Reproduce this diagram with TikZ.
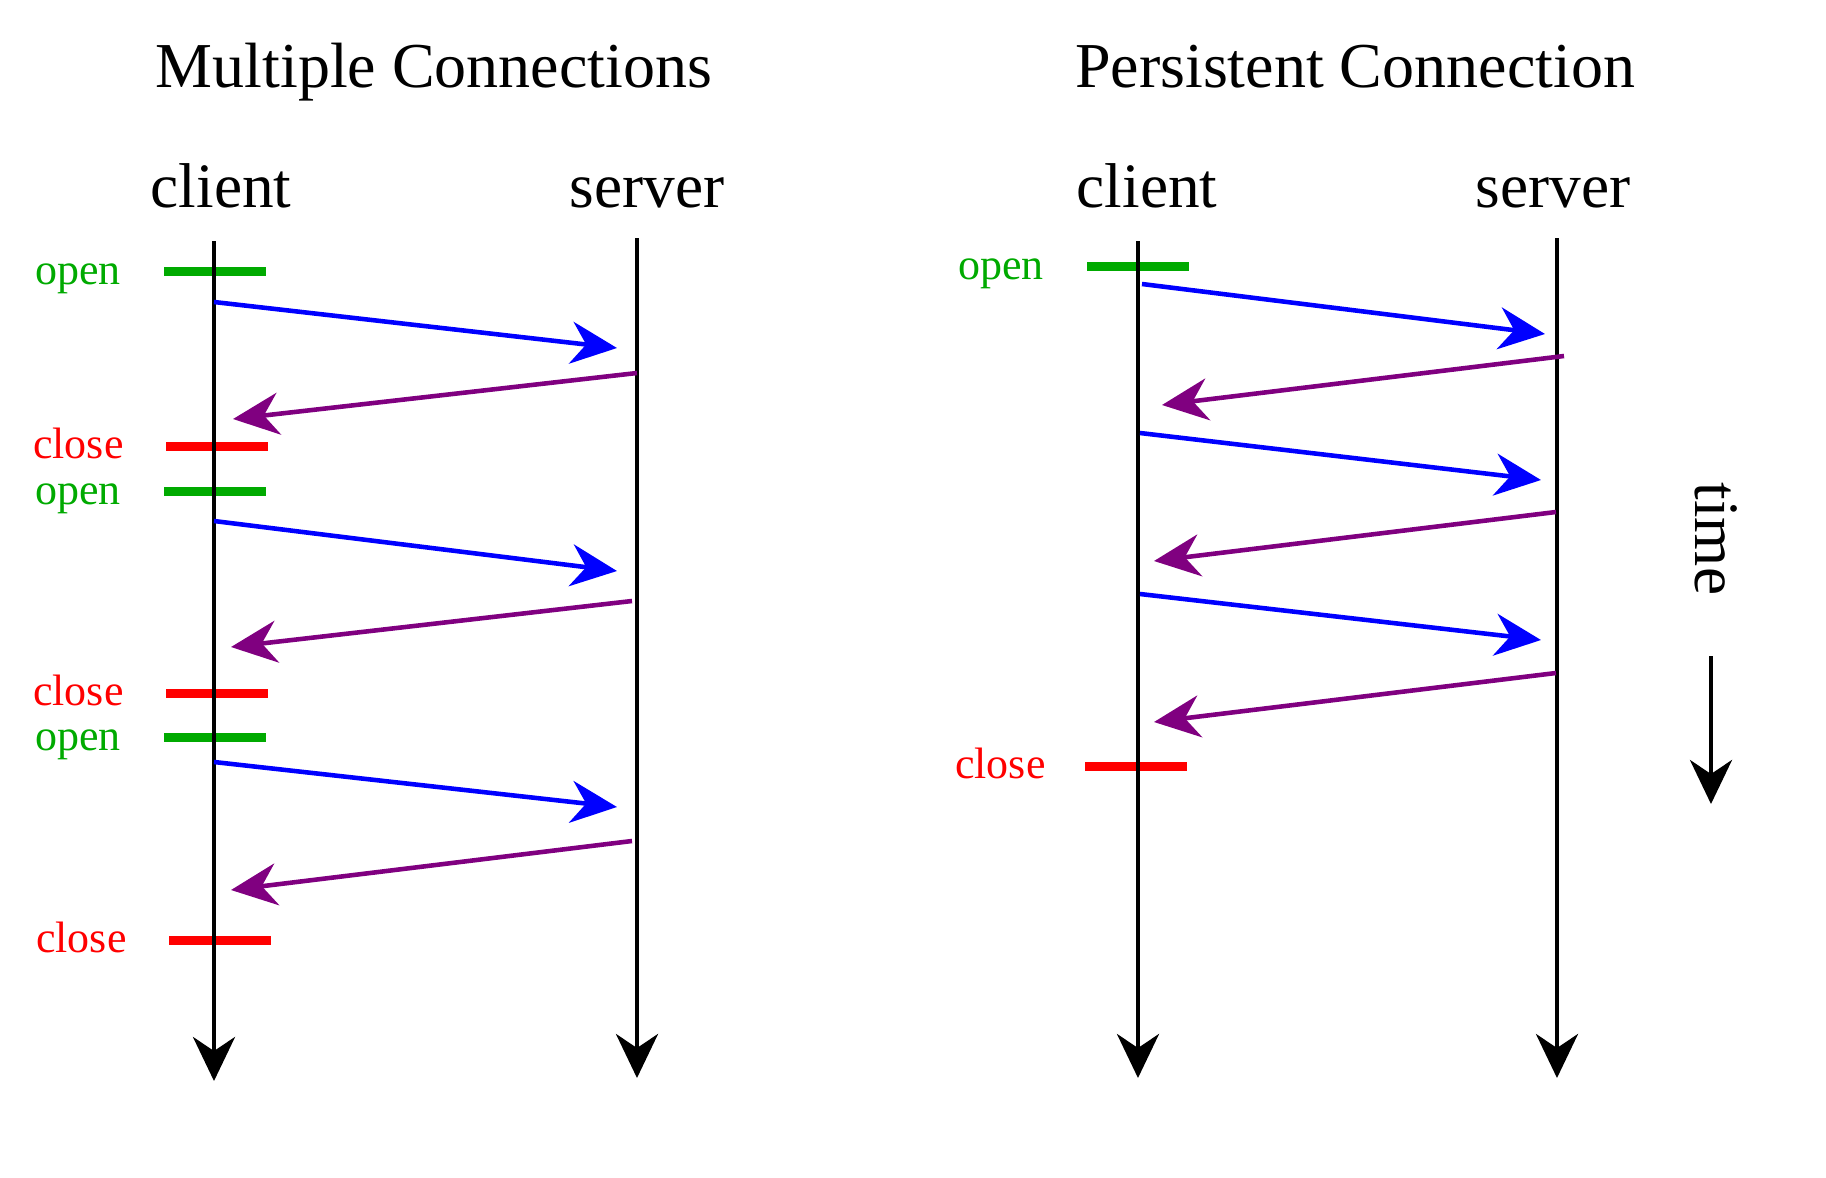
\documentclass[tikz,border=0pt]{standalone}
\usepackage{fontspec}
\setmainfont{Liberation Serif}
\usetikzlibrary{arrows.meta}
\definecolor{opengreen}{RGB}{0,170,0}
\definecolor{respurple}{RGB}{128,0,128}
\tikzset{
	title/.style={anchor=base,inner sep=0pt,font=\fontsize{18.2}{22}\selectfont},
	who/.style={anchor=base,inner sep=0pt,font=\fontsize{18}{22}\selectfont},
	lifeline/.style={line width=1.2pt,-{Stealth[length=4.4mm,width=4.2mm,inset=1.4mm]}},
	req/.style={blue,line width=1.3pt,-{Stealth[length=4.6mm,width=4.2mm,inset=1.5mm]}},
	resp/.style={respurple,line width=1.3pt,-{Stealth[length=4.6mm,width=4.2mm,inset=1.5mm]}},
	openbar/.style={fill=opengreen,inner sep=0pt,minimum width=10.2mm,minimum height=0.9mm},
	closebar/.style={fill=red,inner sep=0pt,minimum width=10.2mm,minimum height=0.9mm},
	openlbl/.style={text=opengreen,anchor=base east,inner sep=0pt,xshift=-4.2mm,yshift=-1.3mm,font=\fontsize{12.5}{15}\selectfont},
	closelbl/.style={text=red,anchor=base east,inner sep=0pt,xshift=-4.1mm,yshift=-1.2mm,font=\fontsize{12.5}{15}\selectfont}
}
\begin{document}
\begin{tikzpicture}[x=0.01cm,y=-0.01cm]
	\useasboundingbox (0,0) rectangle (1826,1178);

	\begin{scope}
		\node[title] (mctitle) at (434,87) {Multiple Connections};
		\node[who] (mcclient) at (221,207) {client};
		\node[who] (mcserver) at (647,207) {server};

		\node[openbar] (mco1) at (215,271) {};
		\node[openlbl] (mcol1) at (mco1.west) {open};
		\node[closebar] (mcc1) at (217,446) {};
		\node[closelbl] (mccl1) at (mcc1.west) {close};
		\node[openbar] (mco2) at (215,491) {};
		\node[openlbl] (mcol2) at (mco2.west) {open};
		\node[closebar] (mcc2) at (217,693) {};
		\node[closelbl] (mccl2) at (mcc2.west) {close};
		\node[openbar] (mco3) at (215,737) {};
		\node[openlbl] (mcol3) at (mco3.west) {open};
		\node[closebar] (mcc3) at (220,940) {};
		\node[closelbl] (mccl3) at (mcc3.west) {close};

		\coordinate (mcctop) at (214,241);
		\coordinate (mccend) at (214,1081);
		\coordinate (mcstop) at (637,238);
		\coordinate (mcsend) at (637,1078);
		\draw[lifeline] (mcctop) -- (mccend);
		\draw[lifeline] (mcstop) -- (mcsend);

		\coordinate (mcq1) at (214,302);
		\coordinate (mcq1e) at (617,348);
		\coordinate (mcr1) at (637,373);
		\coordinate (mcr1e) at (233,419);
		\coordinate (mcq2) at (214,521);
		\coordinate (mcq2e) at (617,571);
		\coordinate (mcr2) at (632,601);
		\coordinate (mcr2e) at (231,647);
		\coordinate (mcq3) at (214,762);
		\coordinate (mcq3e) at (617,807);
		\coordinate (mcr3) at (632,841);
		\coordinate (mcr3e) at (231,890);
		\draw[req] (mcq1) -- (mcq1e);
		\draw[resp] (mcr1) -- (mcr1e);
		\draw[req] (mcq2) -- (mcq2e);
		\draw[resp] (mcr2) -- (mcr2e);
		\draw[req] (mcq3) -- (mcq3e);
		\draw[resp] (mcr3) -- (mcr3e);
	\end{scope}

	\begin{scope}
		\node[title] (pctitle) at (1355,87) {Persistent Connection};
		\node[who] (pcclient) at (1147,207) {client};
		\node[who] (pcserver) at (1553,207) {server};

		\node[openbar] (pco1) at (1138,266) {};
		\node[openlbl] (pcol1) at (pco1.west) {open};
		\node[closebar] (pcc1) at (1136,766) {};
		\node[closelbl,xshift=0.3mm] (pccl1) at (pcc1.west) {close};

		\coordinate (pcctop) at (1138,241);
		\coordinate (pccend) at (1138,1078);
		\coordinate (pcstop) at (1557,238);
		\coordinate (pcsend) at (1557,1078);
		\draw[lifeline] (pcctop) -- (pccend);
		\draw[lifeline] (pcstop) -- (pcsend);

		\coordinate (pcq1) at (1142,284);
		\coordinate (pcq1e) at (1545,334);
		\coordinate (pcr1) at (1564,356);
		\coordinate (pcr1e) at (1162,405);
		\coordinate (pcq2) at (1140,433);
		\coordinate (pcq2e) at (1541,480);
		\coordinate (pcr2) at (1556,512);
		\coordinate (pcr2e) at (1154,561);
		\coordinate (pcq3) at (1140,594);
		\coordinate (pcq3e) at (1541,640);
		\coordinate (pcr3) at (1556,673);
		\coordinate (pcr3e) at (1154,722);
		\draw[req] (pcq1) -- (pcq1e);
		\draw[resp] (pcr1) -- (pcr1e);
		\draw[req] (pcq2) -- (pcq2e);
		\draw[resp] (pcr2) -- (pcr2e);
		\draw[req] (pcq3) -- (pcq3e);
		\draw[resp] (pcr3) -- (pcr3e);
	\end{scope}

	\node[who,anchor=center,rotate=-90] (timelbl) at (1716,539) {time};
	\coordinate (timetop) at (1711,656);
	\coordinate (timeend) at (1711,804);
	\draw[lifeline] (timetop) -- (timeend);
\end{tikzpicture}
\end{document}
